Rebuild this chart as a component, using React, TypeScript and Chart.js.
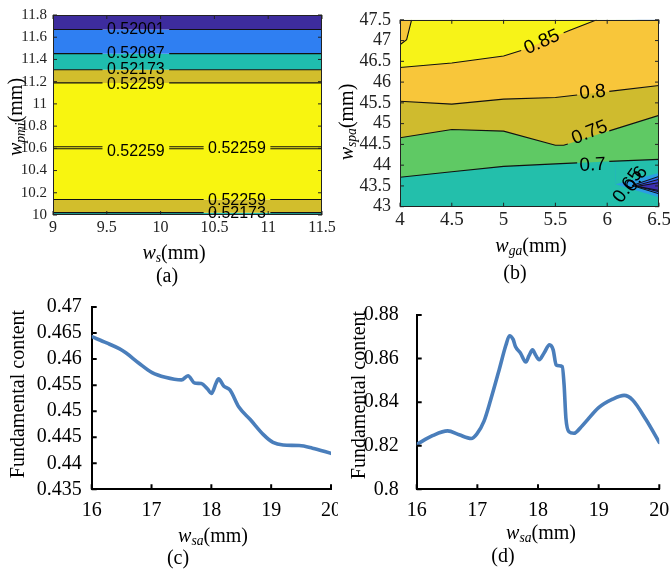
import React, { useEffect, useRef } from "react";
import { Chart, registerables } from "chart.js";

Chart.register(...registerables);

const SERIF = "'Liberation Serif', 'Times New Roman', Times, serif";
const SANS = "'Liberation Sans', Arial, Helvetica, sans-serif";

// ---------------- (a) data ----------------
const aXTicks = [9, 9.5, 10, 10.5, 11, 11.5];
const aYTicks = [10, 10.2, 10.4, 10.6, 10.8, 11, 11.2, 11.4, 11.6, 11.8];
const aBandTop = [11.8, 11.67, 11.452, 11.307, 11.189, 10.139, 10.021];
const aBandBottom = [11.67, 11.452, 11.307, 11.189, 10.139, 10.021, 10];
const aBandColor = ["#3d2c9d", "#2f7ff2", "#1fbdae", "#d2be2c", "#f8f510", "#d2be2c", "#1fbdae"];
const aLineY = [11.67, 11.452, 11.307, 11.189, 10.614, 10.596, 10.139, 10.021];
const aLineLabelX = [[9.77], [9.77], [9.77], [9.77], [9.77, 10.71], [9.77, 10.71], [10.71], [10.71]];
const aLabelText = ["0.52001", "0.52087", "0.52173", "0.52259", "0.52259", "0.52259", "0.52259", "0.52173"];
const aLabelX = [9.77, 9.77, 9.77, 9.77, 9.77, 10.71, 10.71, 10.71];
const aLabelY = [11.67, 11.452, 11.307, 11.17, 10.575, 10.595, 10.133, 10.015];

// ---------------- (b) data ----------------
const bXTicks = [4, 4.5, 5, 5.5, 6, 6.5];
const bYTicks = [43, 43.5, 44, 44.5, 45, 45.5, 46, 46.5, 47, 47.5];
const bC070 = [[4, 43.71], [4.5, 43.84], [5, 43.97], [5.5, 44.03], [6, 44.09], [6.5, 44.14]];
const bC075 = [[4, 44.66], [4.5, 44.86], [5, 44.82], [5.5, 44.48], [5.58, 44.48], [6, 44.81], [6.5, 45.2]];
const bC080 = [[4, 45.54], [4.5, 45.47], [5, 45.59], [5.5, 45.63], [6, 45.77], [6.5, 45.92]];
const bC085 = [[4, 46.35], [4.5, 46.46], [5, 46.63], [5.22, 46.8], [5.64, 47.25], [5.9, 47.5]];
const bC085Corner = [[4, 46.9], [4.064, 47.02], [4.112, 47.5]];
const bRegionColor = ["#23bfab", "#5fc964", "#cfbb2e", "#f8c63a", "#f7f318", "#f8c63a"];
const bGap070 = [[5.71, 6.02]];
const bGap075 = [[5.62, 6.02]];
const bGap080 = [[5.71, 6.02]];
const bGap085 = [[5.17, 5.58]];
const bFanApexX = [6.08, 6.24, 6.27, 6.29];
const bFanApexY = [43.54, 43.51, 43.5, 43.49];
const bFanUpperY = [43.81, 43.73, 43.66, 43.58];
const bFanLowerY = [43.23, 43.31, 43.36, 43.39];
const bFanColor = ["#2b9de4", "#2f6ef0", "#3a4ddc", "#3d2fae"];
const bFanOutlined = [false, true, true, true];
const bLabelText = ["0.85", "0.8", "0.75", "0.7", "0.65", "0.6"];
const bLabelX = [5.37, 5.86, 5.83, 5.86, 6.2, 6.28];
const bLabelY = [46.96, 45.75, 44.78, 44.0, 43.5, 43.66];
const bLabelRot = [-24, -6, -22, -3, -55, -55];

// ---------------- (c) data ----------------
const cXTicks = [16, 17, 18, 19, 20];
const cYTicks = [0.435, 0.44, 0.445, 0.45, 0.455, 0.46, 0.465, 0.47];
const cX = [16.0, 16.25, 16.46, 16.57, 16.79, 17.01, 17.23, 17.5, 17.61, 17.72, 17.83, 17.94, 18.0, 18.08, 18.12, 18.21, 18.31, 18.46, 18.65, 18.87, 19.03, 19.2, 19.47, 19.69, 20.0];
const cY = [0.4643, 0.4631, 0.462, 0.4612, 0.4592, 0.4574, 0.4565, 0.456, 0.4568, 0.4554, 0.4553, 0.4542, 0.4534, 0.4554, 0.4562, 0.4548, 0.4541, 0.4508, 0.4484, 0.4455, 0.444, 0.4435, 0.4434, 0.4429, 0.4419];

// ---------------- (d) data ----------------
const dXTicks = [16, 17, 18, 19, 20];
const dYTicks = [0.8, 0.82, 0.84, 0.86, 0.88];
const dX = [16.0, 16.26, 16.51, 16.7, 16.9, 16.99, 17.11, 17.22, 17.36, 17.47, 17.53, 17.59, 17.63, 17.71, 17.8, 17.85, 17.91, 17.96, 18.02, 18.1, 18.19, 18.25, 18.3, 18.35, 18.4, 18.43, 18.46, 18.51, 18.59, 18.73, 19.0, 19.23, 19.42, 19.56, 19.78, 20.0];
const dY = [0.8206, 0.8246, 0.8268, 0.825, 0.8233, 0.8253, 0.8313, 0.8411, 0.8549, 0.8661, 0.8705, 0.8688, 0.8654, 0.8626, 0.8584, 0.8612, 0.864, 0.8616, 0.8595, 0.8626, 0.8663, 0.864, 0.857, 0.8567, 0.8563, 0.848, 0.8327, 0.8264, 0.8257, 0.8292, 0.8375, 0.8414, 0.8431, 0.841, 0.832, 0.8215];

// ---------------- helpers ----------------
type Pt = { x: number; y: number | null };

function interpAt(poly: number[][], x: number): number {
  for (let i = 0; i < poly.length - 1; i++) {
    const [x0, y0] = poly[i];
    const [x1, y1] = poly[i + 1];
    if (x >= x0 && x <= x1) return y0 + ((y1 - y0) * (x - x0)) / (x1 - x0);
  }
  return poly[poly.length - 1][1];
}

function withGaps(poly: number[][], gaps: number[][]): Pt[] {
  const pts: Pt[] = [];
  for (const [x, y] of poly) {
    if (!gaps.some(([a, b]) => x > a && x < b)) pts.push({ x, y });
  }
  for (const [a, b] of gaps) {
    pts.push({ x: a, y: interpAt(poly, a) });
    pts.push({ x: (a + b) / 2, y: null });
    pts.push({ x: b, y: interpAt(poly, b) });
  }
  return pts.sort((p, q) => p.x - q.x);
}

const toPts = (poly: number[][]): Pt[] => poly.map(([x, y]) => ({ x, y }));

interface Box { left: number; top: number; w: number; h: number; aL: number; aT: number; aR: number; aB: number; }

interface OverlayOpts {
  xTicks: number[];
  yTicks: number[];
  tickLen: number;
  tickWidth: number;
  tickColor: string;
  allSides: boolean;
  frame: boolean;
  labels?: { text: string; x: number; y: number; rot: number }[];
  labelFont?: string;
}

function overlayPlugin(o: OverlayOpts) {
  return {
    id: "overlay",
    afterDraw(chart: any) {
      const { ctx, chartArea: ca, scales } = chart;
      const xs = scales.x;
      const ys = scales.y;
      ctx.save();
      ctx.strokeStyle = o.tickColor;
      ctx.lineWidth = o.tickWidth;
      ctx.beginPath();
      for (const v of o.xTicks) {
        const px = xs.getPixelForValue(v);
        ctx.moveTo(px, ca.bottom);
        ctx.lineTo(px, ca.bottom - o.tickLen);
        if (o.allSides) {
          ctx.moveTo(px, ca.top);
          ctx.lineTo(px, ca.top + o.tickLen);
        }
      }
      for (const v of o.yTicks) {
        const py = ys.getPixelForValue(v);
        ctx.moveTo(ca.left, py);
        ctx.lineTo(ca.left + o.tickLen, py);
        if (o.allSides) {
          ctx.moveTo(ca.right, py);
          ctx.lineTo(ca.right - o.tickLen, py);
        }
      }
      ctx.stroke();
      if (o.frame) {
        ctx.lineWidth = 1;
        ctx.strokeRect(Math.round(ca.left) + 0.5, Math.round(ca.top) + 0.5, Math.round(ca.width) - 1, Math.round(ca.height) - 1);
      }
      if (o.labels) {
        ctx.fillStyle = "#000";
        ctx.font = o.labelFont || `16px ${SANS}`;
        ctx.textAlign = "center";
        ctx.textBaseline = "middle";
        for (const l of o.labels) {
          const px = xs.getPixelForValue(l.x);
          const py = ys.getPixelForValue(l.y);
          ctx.save();
          ctx.translate(px, py);
          ctx.rotate((l.rot * Math.PI) / 180);
          ctx.fillText(l.text, 0, 0);
          ctx.restore();
        }
      }
      ctx.restore();
    },
  };
}

function baseOptions(b: Box, xMin: number, xMax: number, yMin: number, yMax: number, xTicks: number[], yTicks: number[], tick: { xSize: number; ySize: number; xPad: number; yPad: number; color: string }, border: boolean) {
  const yW = b.aL - b.left;
  const xH = b.top + b.h - b.aB;
  return {
    animation: false,
    responsive: false,
    events: [],
    layout: { padding: { left: 0, top: b.aT - b.top, right: b.left + b.w - b.aR, bottom: 0 } },
    plugins: { legend: { display: false }, tooltip: { enabled: false } },
    scales: {
      x: {
        type: "linear",
        min: xMin,
        max: xMax,
        grid: { display: false, drawTicks: false },
        border: border ? { display: true, color: "#000", width: 2 } : { display: false },
        afterBuildTicks: (s: any) => { s.ticks = xTicks.map((v) => ({ value: v })); },
        afterFit: (s: any) => { s.height = xH; },
        ticks: { padding: tick.xPad, color: tick.color, font: { family: SERIF, size: tick.xSize }, maxRotation: 0, minRotation: 0, autoSkip: false, callback: (v: number) => String(v) },
      },
      y: {
        type: "linear",
        min: yMin,
        max: yMax,
        grid: { display: false, drawTicks: false },
        border: border ? { display: true, color: "#000", width: 2 } : { display: false },
        afterBuildTicks: (s: any) => { s.ticks = yTicks.map((v) => ({ value: v })); },
        afterFit: (s: any) => { s.width = yW; },
        ticks: { padding: tick.yPad, color: tick.color, font: { family: SERIF, size: tick.ySize }, autoSkip: false, callback: (v: number) => String(v) },
      },
    },
  };
}

// ---------------- panel boxes ----------------
const boxA: Box = { left: 0, top: 0, w: 345, h: 245, aL: 53, aT: 12, aR: 322, aB: 215 };
const boxB: Box = { left: 335, top: 0, w: 345, h: 245, aL: 400, aT: 12.7, aR: 659, aB: 206.7 };
const boxC: Box = { left: 0, top: 285, w: 350, h: 250, aL: 91.7, aT: 299, aR: 335, aB: 489.3 };
const boxD: Box = { left: 338, top: 285, w: 342, h: 250, aL: 416.7, aT: 295.7, aR: 659.3, aB: 489.3 };

function configA() {
  const datasets: any[] = [];
  aBandTop.forEach((t, i) => {
    datasets.push({
      data: [{ x: 9, y: t }, { x: 11.5, y: t }],
      borderWidth: 0,
      pointRadius: 0,
      backgroundColor: aBandColor[i],
      fill: { value: aBandBottom[i] },
      order: 10,
    });
  });
  aLineY.forEach((y, i) => {
    const poly = [[9, y], [11.5, y]];
    const gaps = aLineLabelX[i].map((x) => [x - 0.31, x + 0.31]);
    datasets.push({
      data: withGaps(poly, gaps),
      borderColor: "#111",
      borderWidth: 1.1,
      pointRadius: 0,
      fill: false,
      order: 1,
    });
  });
  const labels = aLabelText.map((t, i) => ({ text: t, x: aLabelX[i], y: aLabelY[i], rot: 0 }));
  return {
    type: "line",
    data: { datasets },
    options: baseOptions(boxA, 9, 11.5, 10, 11.8, aXTicks, aYTicks, { xSize: 16, ySize: 15, xPad: 3, yPad: 6, color: "#222" }, false),
    plugins: [overlayPlugin({ xTicks: aXTicks, yTicks: aYTicks, tickLen: 4, tickWidth: 1, tickColor: "#222", allSides: true, frame: true, labels, labelFont: `16px ${SANS}` })],
  };
}

function configB() {
  const datasets: any[] = [];
  let ord = 200;
  const fillEnd = (pts: Pt[], color: string) => {
    datasets.push({ data: pts, borderWidth: 0, pointRadius: 0, backgroundColor: color, fill: "end", order: ord-- });
  };
  fillEnd(toPts([[4, 43], [6.5, 43]]), bRegionColor[0]);
  bFanApexX.forEach((ax, i) => {
    fillEnd([{ x: ax, y: bFanApexY[i] }, { x: 6.5, y: bFanLowerY[i] }], bFanColor[i]);
  });
  for (let i = bFanApexX.length - 1; i >= 0; i--) {
    const outer = i === 0 ? bRegionColor[0] : bFanColor[i - 1];
    fillEnd([{ x: bFanApexX[i], y: bFanApexY[i] }, { x: 6.5, y: bFanUpperY[i] }], outer);
  }
  [bC070, bC075, bC080, bC085, bC085Corner].forEach((poly, i) => fillEnd(toPts(poly), bRegionColor[i + 1]));

  bFanApexX.forEach((ax, i) => {
    if (!bFanOutlined[i]) return;
    [bFanLowerY[i], bFanUpperY[i]].forEach((ey) => {
      datasets.push({
        data: [{ x: ax, y: bFanApexY[i] }, { x: 6.5, y: ey }],
        borderColor: "#111",
        borderWidth: 1,
        pointRadius: 0,
        fill: false,
        order: 1,
      });
    });
  });
  const lines: [number[][], number[][]][] = [[bC070, bGap070], [bC075, bGap075], [bC080, bGap080], [bC085, bGap085], [bC085Corner, []]];
  lines.forEach(([poly, gaps]) => {
    datasets.push({
      data: withGaps(poly, gaps),
      borderColor: "#111",
      borderWidth: 1.1,
      pointRadius: 0,
      fill: false,
      order: 1,
    });
  });
  const labels = bLabelText.map((t, i) => ({ text: t, x: bLabelX[i], y: bLabelY[i], rot: bLabelRot[i] }));
  return {
    type: "line",
    data: { datasets },
    options: baseOptions(boxB, 4, 6.5, 43, 47.5, bXTicks, bYTicks, { xSize: 19, ySize: 18, xPad: 2, yPad: 9, color: "#222" }, false),
    plugins: [overlayPlugin({ xTicks: bXTicks, yTicks: bYTicks, tickLen: 4, tickWidth: 1, tickColor: "#222", allSides: true, frame: true, labels, labelFont: `19px ${SANS}` })],
  };
}

function lineConfig(b: Box, xs: number[], ys: number[], xTicks: number[], yTicks: number[], yMin: number, yMax: number, yPad: number) {
  return {
    type: "line",
    data: {
      datasets: [
        {
          data: xs.map((x, i) => ({ x, y: ys[i] })),
          borderColor: "#4a7ebb",
          borderWidth: 3.6,
          pointRadius: 0,
          cubicInterpolationMode: "monotone",
          fill: false,
          borderCapStyle: "round",
          borderJoinStyle: "round",
        },
      ],
    },
    options: baseOptions(b, 16, 20, yMin, yMax, xTicks, yTicks, { xSize: 20, ySize: 20, xPad: 9, yPad, color: "#000" }, true),
    plugins: [overlayPlugin({ xTicks, yTicks, tickLen: 5, tickWidth: 2, tickColor: "#000", allSides: false, frame: false })],
  };
}

const configC = () => lineConfig(boxC, cX, cY, cXTicks, cYTicks, 0.435, 0.47, 10);
const configD = () => lineConfig(boxD, dX, dY, dXTicks, dYTicks, 0.8, 0.88, 18);

function Panel({ box, config, bg }: { box: Box; config: () => any; bg?: string }) {
  const ref = useRef<HTMLCanvasElement>(null);
  useEffect(() => {
    const chart = new Chart(ref.current as HTMLCanvasElement, config());
    return () => chart.destroy();
  }, []);
  return (
    <div style={{ position: "absolute", left: box.left, top: box.top, width: box.w, height: box.h, background: bg || "transparent" }}>
      <canvas ref={ref} width={box.w} height={box.h} style={{ display: "block", width: box.w, height: box.h }} />
    </div>
  );
}

function Label({ x, y, rot, size, children }: { x: number; y: number; rot?: boolean; size?: number; children: React.ReactNode }) {
  return (
    <div
      style={{
        position: "absolute",
        left: x,
        top: y,
        transform: `translate(-50%, -50%)${rot ? " rotate(-90deg)" : ""}`,
        whiteSpace: "nowrap",
        fontFamily: SERIF,
        fontSize: size || 20,
        lineHeight: 1,
        color: "#000",
        zIndex: 5,
      }}
    >
      {children}
    </div>
  );
}

function W({ sub }: { sub: string }) {
  return (
    <span>
      <i>w</i>
      <i style={{ fontSize: "0.68em", position: "relative", top: "0.25em" }}>{sub}</i>
      (mm)
    </span>
  );
}

export default function App() {
  return (
    <div style={{ position: "fixed", left: 0, top: 0, width: 670, height: 570, background: "#fff", overflow: "hidden" }}>
      <Panel box={boxA} config={configA} />
      <Panel box={boxB} config={configB} />
      <Panel box={boxC} config={configC} />
      <Panel box={boxD} config={configD} bg="#fff" />

      <Label x={15} y={117} rot><W sub="pmi" /></Label>
      <Label x={174} y={252}><W sub="s" /></Label>
      <Label x={167} y={275}>(a)</Label>

      <Label x={346} y={122} rot><W sub="spa" /></Label>
      <Label x={531} y={245}><W sub="ga" /></Label>
      <Label x={515} y={272}>(b)</Label>

      <Label x={17} y={394} rot>Fundamental content</Label>
      <Label x={213} y={535}><W sub="sa" /></Label>
      <Label x={178} y={557}>(c)</Label>

      <Label x={358} y={395} rot>Fundamental content</Label>
      <Label x={541} y={532}><W sub="sa" /></Label>
      <Label x={503} y={555}>(d)</Label>
    </div>
  );
}
